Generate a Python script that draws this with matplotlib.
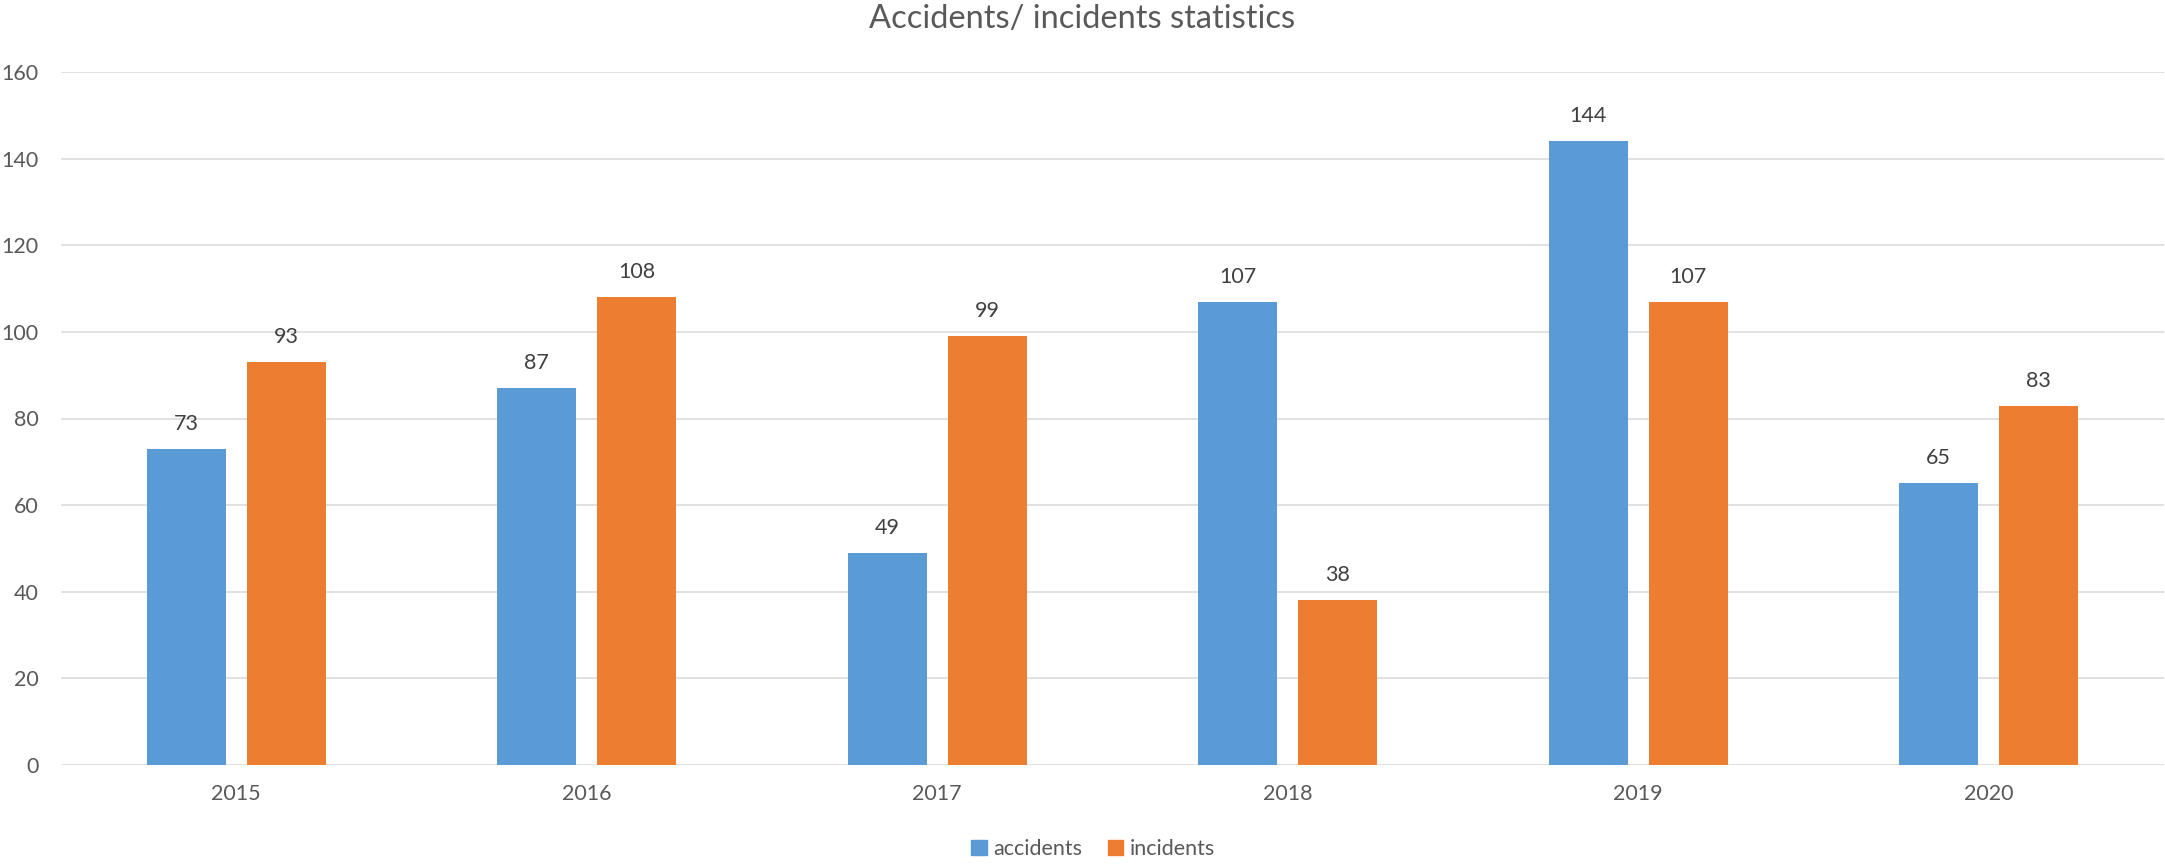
import matplotlib.pyplot as plt
import numpy as np
from matplotlib.patches import Patch

years = ['2015', '2016', '2017', '2018', '2019', '2020']
accidents = [73, 87, 49, 107, 144, 65]
incidents = [93, 108, 99, 38, 107, 83]

blue = '#5B9BD5'
orange = '#ED7D31'
text_grey = '#595959'

plt.rcParams['font.family'] = ['Lato', 'DejaVu Sans']

W, H = 2165, 865
fig = plt.figure(figsize=(W / 100, H / 100), dpi=100)
ax = fig.add_axes([61 / W, (H - 765) / H, (2164 - 61) / W, (765 - 72) / H])

x = np.arange(len(years))
bw = 0.225
off = 0.1425
b1 = ax.bar(x - off, accidents, bw, color=blue, zorder=3)
b2 = ax.bar(x + off, incidents, bw, color=orange, zorder=3)

for bars in (b1, b2):
    for r in bars:
        ax.annotate(f'{int(r.get_height())}', (r.get_x() + r.get_width() / 2, r.get_height()),
                    xytext=(0, 18), textcoords='offset points', ha='center', va='center',
                    fontsize=15.5, color='#404040')

ax.set_xlim(-0.5, len(years) - 0.5)
ax.set_ylim(0, 160)
ax.set_yticks(range(0, 161, 20))
ax.set_xticks(x)
ax.set_xticklabels(years)
ax.yaxis.grid(True, color='#D9D9D9', linewidth=1.1, zorder=0)
ax.set_axisbelow(True)
for s in ax.spines.values():
    s.set_visible(False)
ax.tick_params(axis='both', length=0, labelsize=15.5, labelcolor=text_grey)
ax.tick_params(axis='y', pad=16)
ax.tick_params(axis='x', pad=14)

fig.text(0.5, 1 - 19 / H, 'Accidents/ incidents statistics', ha='center', va='center',
         fontsize=23.5, color=text_grey)

handles = [Patch(color=blue, label='accidents'), Patch(color=orange, label='incidents')]
fig.legend(handles=handles, loc='center', bbox_to_anchor=(1093 / W, 1 - 849 / H), ncol=2,
           frameon=False, fontsize=15.5, handlelength=0.7, handleheight=0.7,
           handletextpad=0.3, columnspacing=1.2, labelcolor=text_grey)

fig.savefig('out.png', dpi=100)
